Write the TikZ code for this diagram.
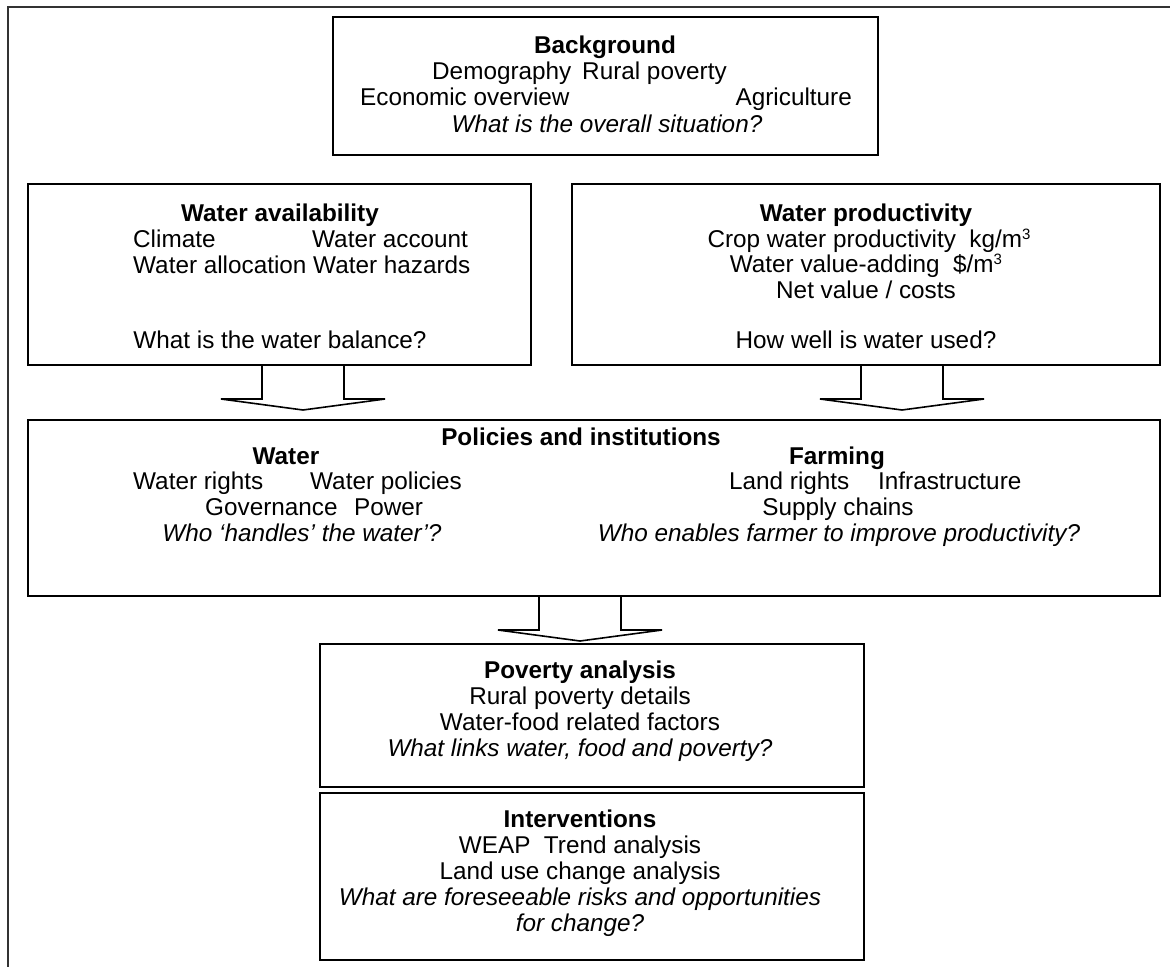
\documentclass[tikz,border=0pt]{standalone}
\usepackage{fontspec}
\setmainfont{Liberation Sans}
\usetikzlibrary{calc}

\newcommand{\cubic}{\raisebox{0.3em}{\fontsize{15}{15}\selectfont 3}}
% hollow block arrow: centre x, upper box, lower box, gap above lower box
\newcommand{\flowarrow}[4]{%
  \path (#1,0 |- #2.south) coordinate (t) (#1,0 |- #3.north) coordinate (b);
  \draw[flow] ($(t)+(-41,0)$) |- ($(b)+(-82,-#4-11)$) -- ($(b)+(0,-#4)$)
    -- ($(b)+(82,-#4-11)$) -| ($(t)+(41,0)$);}

\begin{document}
\begin{tikzpicture}[x=1pt,y=-1pt,
    box/.style={draw,line width=1.6pt,anchor=north west,inner sep=0pt,outer sep=0pt},
    txt/.style={anchor=base,inner sep=0pt,font=\fontsize{24.3}{26}\selectfont},
    hd/.style={txt,font=\fontsize{24.3}{26}\selectfont\bfseries},
    ask/.style={txt,font=\fontsize{24.3}{26}\selectfont\itshape},
    flow/.style={draw,line width=1.6pt,line join=miter}]
  \useasboundingbox (0,0) rectangle (1170,967);
  \draw[line width=1.6pt,black!80] (1170,7) -- (8,7) -- (8,967);

  \node[box,minimum width=545pt,minimum height=138pt] (bg) at (333,17) {};
  \node[box,minimum width=503pt,minimum height=181pt] (wa) at (28,184) {};
  \node[box,minimum width=588pt,minimum height=181pt] (wp) at (572,184) {};
  \node[box,minimum width=1132pt,minimum height=176pt] (pol) at (28,420) {};
  \node[box,minimum width=544pt,minimum height=143pt] (pov) at (320,644) {};
  \node[box,minimum width=544pt,minimum height=167pt] (int) at (320,793) {};

  % background
  \node[hd] (bg-t) at (605,53) {Background};
  \node[txt,anchor=base west] (bg-a) at (432,79) {Demography};
  \node[txt,anchor=base west] (bg-b) at (582,79) {Rural poverty};
  \node[txt,anchor=base west] (bg-c) at (360,105) {Economic overview};
  \node[txt,anchor=base east] (bg-d) at (852,105) {Agriculture};
  \node[ask] (bg-q) at (607,132) {What is the overall situation?};

  % water availability
  \node[hd] (wa-t) at (280,221) {Water availability};
  \node[txt,anchor=base west] (wa-a) at (133,247) {Climate};
  \node[txt,anchor=base west] (wa-b) at (312,247) {Water account};
  \node[txt,anchor=base west] (wa-c) at (133,273) {Water allocation Water hazards};
  \node[txt] (wa-q) at (280,348) {What is the water balance?};

  % water productivity
  \node[hd] (wp-t) at (866,221) {Water productivity};
  \node[txt] (wp-a) at (869,247) {Crop water productivity\ \ kg/m\cubic};
  \node[txt] (wp-b) at (866,272) {Water value-adding\ \ \$/m\cubic};
  \node[txt] (wp-c) at (866,298) {Net value / costs};
  \node[txt] (wp-q) at (866,348) {How well is water used?};

  % policies and institutions
  \node[hd] (pol-t) at (581,445) {Policies and institutions};
  \node[hd] (pol-w) at (286,464) {Water};
  \node[txt,anchor=base west] (pol-wa) at (133,489) {Water rights};
  \node[txt,anchor=base west] (pol-wb) at (310,489) {Water policies};
  \node[txt,anchor=base west] (pol-wc) at (205,515) {Governance};
  \node[txt,anchor=base west] (pol-wd) at (354,515) {Power};
  \node[ask] (pol-wq) at (302,541) {Who ‘handles’ the water’?};
  \node[hd] (pol-f) at (837,464) {Farming};
  \node[txt,anchor=base west] (pol-fa) at (729,489) {Land rights};
  \node[txt,anchor=base west] (pol-fb) at (878,489) {Infrastructure};
  \node[txt] (pol-fc) at (838,515) {Supply chains};
  \node[ask] (pol-fq) at (839,541) {Who enables farmer to improve productivity?};

  % poverty analysis
  \node[hd] (pov-t) at (580,678) {Poverty analysis};
  \node[txt] (pov-a) at (580,704) {Rural poverty details};
  \node[txt] (pov-b) at (580,730) {Water-food related factors};
  \node[ask] (pov-q) at (580,756) {What links water, food and poverty?};

  % interventions
  \node[hd] (int-t) at (580,827) {Interventions};
  \node[txt] (int-a) at (580,853) {WEAP\ \ Trend analysis};
  \node[txt] (int-b) at (580,879) {Land use change analysis};
  \node[ask] (int-q) at (580,905) {What are foreseeable risks and opportunities};
  \node[ask] (int-r) at (580,931) {for change?};

  \flowarrow{303}{wa}{pol}{10}
  \flowarrow{902}{wp}{pol}{10}
  \flowarrow{580}{pol}{pov}{3}
\end{tikzpicture}
\end{document}
